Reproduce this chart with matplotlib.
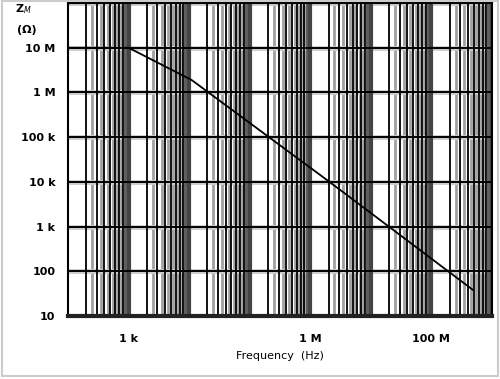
import matplotlib
matplotlib.use("Agg")
import matplotlib.pyplot as plt
import numpy as np
from matplotlib.patches import Rectangle

# impedance vs frequency
freq = [100, 1e3, 1.1e4, 2e6, 4.9e8]
zm = [1e7, 1e7, 1.9e6, 1.04e4, 38]

xticks = [1e3, 1e6, 1e8]
xticklabels = ["1 k", "1 M", "100 M"]
yticks = [10, 100, 1e3, 1e4, 1e5, 1e6, 1e7]
yticklabels = ["10", "100", "1 k", "10 k", "100 k", "1 M", "10 M"]

fig = plt.figure(figsize=(5.0, 3.79), dpi=100)
ax = fig.add_axes([0.136, 0.166, 0.848, 0.826])
ax.set_xscale("log")
ax.set_yscale("log")
ax.set_xlim(100, 1e9)
ax.set_ylim(10, 1e8)

# chart-paper style grid
for dec in range(2, 9):
    base = 10.0 ** dec
    for s in np.arange(2.5, 10, 1.0):
        ax.axvline(base * s, color="#a0a0a0", lw=2, zorder=1)
    for s in range(2, 10):
        ax.axvline(base * s, color="black", lw=1.3, zorder=2)
    for s in [8.7, 9.2, 9.6]:
        ax.axvline(base * s, color="#606060", lw=1.6, zorder=2)
    ax.axvline(base * 10, color="#444444", lw=3, zorder=2)
for v in yticks[1:] + [1e8]:
    ax.axhline(v, color="#cccccc", lw=3.5, zorder=1)
    ax.axhline(v, color="black", lw=1.4, zorder=3)

ax.plot(freq, zm, color="black", lw=1.3, zorder=4)

ax.set_xticks(xticks)
ax.set_xticklabels(xticklabels, fontsize=8, fontweight="bold")
ax.set_yticks(yticks)
ax.set_yticklabels(yticklabels, fontsize=8, fontweight="bold")
ax.minorticks_off()
ax.tick_params(axis="y", length=0, pad=9)
ax.tick_params(axis="x", length=0, pad=13)
for sp in ax.spines.values():
    sp.set_linewidth(1.5)
ax.spines["bottom"].set_linewidth(3)
ax.spines["bottom"].set_color("#222222")

ax.set_xlabel("Frequency  (Hz)", fontsize=8, labelpad=5)
fig.text(0.03, 0.975, "Z$_{M}$", fontsize=8, fontweight="bold", va="center")
fig.text(0.035, 0.922, "(\u03a9)", fontsize=8, fontweight="bold", va="center")

fig.patches.append(Rectangle((0.004, 0.008), 0.992, 0.99, transform=fig.transFigure,
                             fill=False, edgecolor="#cccccc", lw=1.5))

fig.savefig("out.png", dpi=100)
